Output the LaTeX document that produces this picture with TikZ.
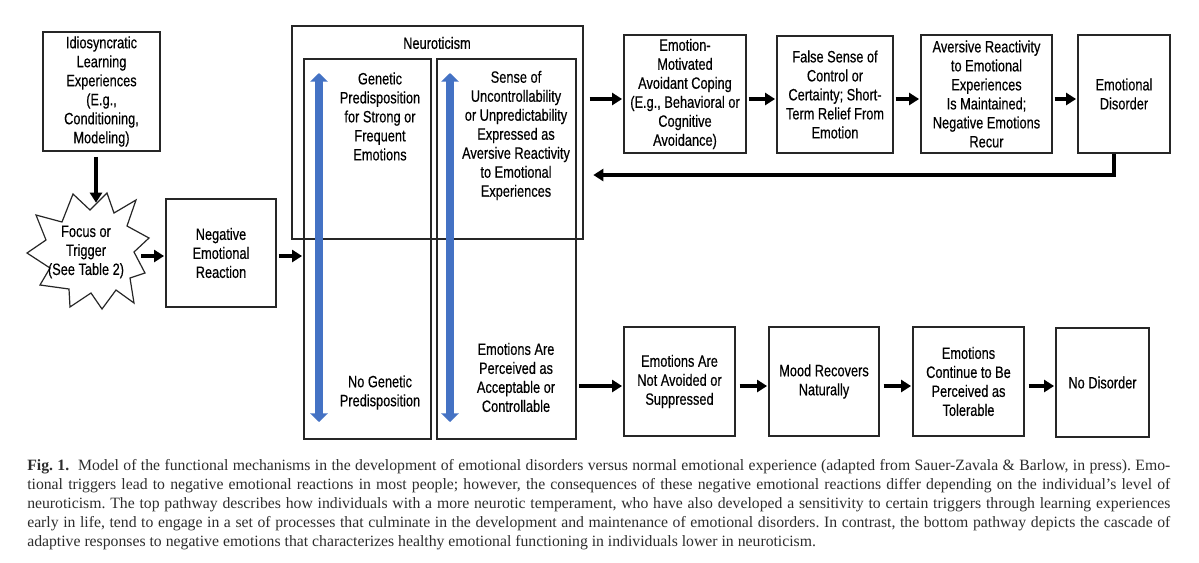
\documentclass[tikz,border=0pt]{standalone}
\usepackage{fontspec}
\setmainfont{Liberation Serif}
\newfontfamily\narrow{Liberation Sans}[FakeStretch=0.78,FakeBold=0.4]
\usetikzlibrary{arrows.meta}
\definecolor{myblue}{RGB}{68,114,196}
\definecolor{capgray}{RGB}{45,45,45}
\newcommand{\capline}[1]{\makebox[857.25pt][s]{#1}}
\begin{document}
\begin{tikzpicture}[x=0.75pt,y=-0.75pt,
  box/.style={draw=black!85, line width=0.9pt, align=center, inner sep=0pt,
    font=\narrow\fontsize{12.3}{14.25}\selectfont},
  txt/.style={align=center, inner sep=0pt, font=\narrow\fontsize{12.3}{14.25}\selectfont},
  arr/.style={line width=2.4pt, -{Triangle[length=7.5pt,width=9pt]}, shorten >=1pt, shorten <=1.5pt},
  bluearr/.style={draw=myblue, line width=6pt, {Triangle[length=6.5pt,width=13pt]}-{Triangle[length=6.5pt,width=13pt]}}]
\useasboundingbox (0,0) rectangle (1199,562);
\fill[white] (0,0) rectangle (1199,562);

% left column
\node[box, minimum width=87.75pt, minimum height=89.25pt] (idio) at (101.5,91.5)
  {Idiosyncratic\\Learning\\Experiences\\(E.g.,\\Conditioning,\\Modeling)};
\filldraw[fill=white, draw=black!85, line width=0.9pt]
  (73,194) -- (90,210) -- (107,193) -- (114,213) -- (136,200) -- (127,226) --
  (149,238) -- (134,252) -- (145,273) -- (130,278) -- (134,303) -- (116,290) --
  (102,309) -- (91,293) -- (70,307) -- (69,289) -- (40,285) -- (50,268) --
  (27,253) -- (46,240) -- (36,215) -- (62,222) -- cycle;
\node[txt] (trig) at (86,252) {Focus or\\Trigger\\(See Table 2)};
\coordinate (trigT) at (96,204);
\coordinate (trigR) at (139,256);
\node[box, minimum width=82.5pt, minimum height=81pt] (neg) at (221,253)
  {Negative\\Emotional\\Reaction};

% neuroticism
\node[box, minimum width=95.25pt, minimum height=285pt] (leftin) at (367.5,249) {};
\node[box, minimum width=104.25pt, minimum height=285pt] (rightin) at (506.5,249) {};
\node[box, minimum width=218.25pt, minimum height=159.75pt] (outer) at (437.5,132.5) {};
\node[txt] (title) at (437,43) {Neuroticism};
\node[txt] (gen) at (380,116.5) {Genetic\\Predisposition\\for Strong or\\Frequent\\Emotions};
\node[txt] (nogen) at (380,392.5) {No Genetic\\Predisposition};
\node[txt] (sense) at (516,135.5) {Sense of\\Uncontrollability\\or Unpredictability\\Expressed as\\Aversive Reactivity\\to Emotional\\Experiences};
\node[txt] (accept) at (516,377.5) {Emotions Are\\Perceived as\\Acceptable or\\Controllable};
\coordinate (b1t) at (319,73); \coordinate (b1b) at (319,422);
\coordinate (b2t) at (450,73); \coordinate (b2b) at (450,422);
\draw[bluearr] (b1t) -- (b1b);
\draw[bluearr] (b2t) -- (b2b);

% top row
\node[box, minimum width=91.5pt, minimum height=88.5pt] (t1) at (685,94)
  {Emotion-\\Motivated\\Avoidant Coping\\(E.g., Behavioral or\\Cognitive\\Avoidance)};
\node[box, minimum width=87pt, minimum height=87.75pt] (t2) at (835,94.5)
  {False Sense of\\Control or\\Certainty; Short-\\Term Relief From\\Emotion};
\node[box, minimum width=98.25pt, minimum height=88.5pt] (t3) at (986.5,94)
  {Aversive Reactivity\\to Emotional\\Experiences\\Is Maintained;\\Negative Emotions\\Recur};
\node[box, minimum width=69pt, minimum height=88.5pt] (t4) at (1124,94)
  {Emotional\\Disorder};
\coordinate (fb) at (592,175);

% bottom row
\node[box, minimum width=83.25pt, minimum height=81.75pt] (u1) at (679.5,381.5)
  {Emotions Are\\Not Avoided or\\Suppressed};
\node[box, minimum width=82.5pt, minimum height=81.75pt] (u2) at (824,381.5)
  {Mood Recovers\\Naturally};
\node[box, minimum width=83.25pt, minimum height=81.75pt] (u3) at (968.5,381.5)
  {Emotions\\Continue to Be\\Perceived as\\Tolerable};
\node[box, minimum width=69.75pt, minimum height=81.75pt] (u4) at (1102.5,382.5)
  {No Disorder};

% connectors
\draw[arr, shorten <=4pt] (idio.south -| trigT) -- (trigT);
\draw[arr] (trigR) -- (neg.west |- trigR);
\draw[arr] ([yshift=-2.25pt]neg.east) -- ([yshift=-2.25pt]neg.east -| leftin.west);
\draw[arr, shorten <=4.5pt] (outer.east |- 0,99) -- (t1.west |- 0,99);
\draw[arr] (t1.east |- 0,99) -- (t2.west |- 0,99);
\draw[arr] (t2.east |- 0,99) -- (t3.west |- 0,99);
\draw[arr] (t3.east |- 0,99) -- (t4.west |- 0,99);
\draw[arr, shorten <=0pt] ([xshift=-7.5pt]t4.south) |- (fb);
\draw[arr] (rightin.east |- 0,386) -- (u1.west |- 0,386);
\draw[arr, shorten <=3pt] (u1.east |- 0,386) -- (u2.west |- 0,386);
\draw[arr, shorten <=3pt] (u2.east |- 0,386) -- (u3.west |- 0,386);
\draw[arr, shorten <=3pt] (u3.east |- 0,386) -- (u4.west |- 0,386);

% caption
\node[anchor=north west, inner sep=0pt, align=left, text=capgray,
  font=\frenchspacing\fontsize{11.8}{14.25}\selectfont] (cap) at (27,459.5)
{\capline{\textbf{Fig. 1.}\ \ Model of the functional mechanisms in the development of emotional disorders versus normal emotional experience (adapted from Sauer-Zavala \& Barlow, in press). Emo-}\\
\capline{tional triggers lead to negative emotional reactions in most people; however, the consequences of these negative emotional reactions differ depending on the individual’s level of}\\
\capline{neuroticism. The top pathway describes how individuals with a more neurotic temperament, who have also developed a sensitivity to certain triggers through learning experiences}\\
\capline{early in life, tend to engage in a set of processes that culminate in the development and maintenance of emotional disorders. In contrast, the bottom pathway depicts the cascade of}\\
adaptive responses to negative emotions that characterizes healthy emotional functioning in individuals lower in neuroticism.};
\end{tikzpicture}
\end{document}
